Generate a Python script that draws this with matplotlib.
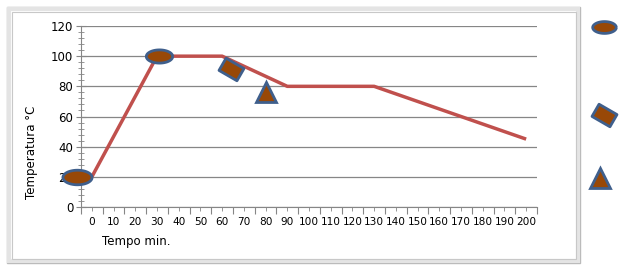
import numpy as np
import matplotlib.pyplot as plt
from matplotlib.path import Path
from matplotlib.patches import Rectangle

# data (minutes, degrees C)
tempo = [0, 30, 60, 90, 130, 200]
temperatura = [20, 100, 100, 80, 80, 45]
x_labels = list(range(0, 201, 10))

# drawn shapes on the chart (minutes, degrees C)
ellipse_pts = [(-7, 20), (31, 100)]
rect_pts = [(64, 91.5)]
tri_pts = [(80, 76)]
# shapes outside the chart (figure pixels)
side_ellipse = (604, 27)
side_rect = (604, 115)
side_tri = (600, 178)

fill_col = '#984807'
edge_col = '#3f5f8c'
line_col = '#c0504d'

t = np.linspace(0, 2 * np.pi, 60)
ellipse_marker = Path(np.column_stack([np.cos(t), 0.5 * np.sin(t)]))
ang = np.deg2rad(-30)
rx, ry = 1.0, 0.68
corners = np.array([[-rx, -ry], [rx, -ry], [rx, ry], [-rx, ry], [-rx, -ry]])
rot = np.array([[np.cos(ang), -np.sin(ang)], [np.sin(ang), np.cos(ang)]])
rect_marker = Path(corners @ rot.T, closed=True)

W, H = 620, 270
fig = plt.figure(figsize=(6.2, 2.7), dpi=100)
fig.patch.set_facecolor('white')

# frame around the chart
bg = fig.add_axes([0, 0, 1, 1])
bg.set_xlim(0, W)
bg.set_ylim(H, 0)
bg.axis('off')
bg.add_patch(Rectangle((7, 7), 573, 256, fill=False, ec='#b8b8b8', lw=1.0))
bg.add_patch(Rectangle((9, 9), 569, 252, fill=False, ec='#e4e4e4', lw=3.0))
bg.add_patch(Rectangle((11.5, 11.5), 564, 247, fill=False, ec='#c8c8c8', lw=0.8))

ax = fig.add_axes([81 / W, 1 - 207 / H, (537 - 81) / W, (207 - 26) / H])
pos = lambda v: v / 10.0
ax.plot([pos(v) for v in tempo], temperatura, color=line_col, lw=2.5,
        solid_capstyle='butt', zorder=3)

ax.set_xlim(-0.5, 20.5)
ax.set_ylim(0, 120)
ax.set_xticks(np.arange(-0.5, 21, 1))
ax.set_xticklabels([])
ax.set_xticks([pos(v) for v in x_labels], minor=True)
ax.set_xticklabels([str(v) for v in x_labels], minor=True, fontsize=7.6)
ax.set_yticks(np.arange(0, 121, 20))
ax.set_yticks(np.arange(0, 121, 4), minor=True)
ax.tick_params(axis='y', which='major', labelsize=8.5, direction='inout', length=7, color='#868686', pad=2)
ax.tick_params(axis='y', which='minor', direction='inout', length=4, color='#868686')
ax.tick_params(axis='x', which='major', direction='out', length=5, color='#868686')
ax.tick_params(axis='x', which='minor', direction='out', length=3, color='#868686', pad=4)
ax.grid(True, axis='y', which='major', color='#868686', lw=0.9)
ax.set_axisbelow(True)
for s in ['top', 'right']:
    ax.spines[s].set_visible(False)
for s in ['left', 'bottom']:
    ax.spines[s].set_color('#868686')

for (x, y), ms in zip(ellipse_pts, [21, 19]):
    ax.plot(pos(x), y, marker=ellipse_marker, ms=ms, mfc=fill_col, mec=edge_col,
            mew=2.0, clip_on=False, zorder=5)
for x, y in rect_pts:
    ax.plot(pos(x), y, marker=rect_marker, ms=18, mfc=fill_col, mec=edge_col,
            mew=2.0, clip_on=False, zorder=5)
for x, y in tri_pts:
    ax.plot(pos(x), y, marker='^', ms=15, mfc=fill_col, mec=edge_col,
            mew=2.0, clip_on=False, zorder=5)

bg.plot(*side_ellipse, marker=ellipse_marker, ms=17, mfc=fill_col, mec=edge_col, mew=2.0)
bg.plot(*side_rect, marker=rect_marker, ms=18, mfc=fill_col, mec=edge_col, mew=2.0)
bg.plot(*side_tri, marker='^', ms=15, mfc=fill_col, mec=edge_col, mew=2.0)

fig.text(32 / W, 1 - 152 / H, 'Temperatura °C', rotation=90, fontsize=8.5,
         ha='center', va='center')
fig.text(102 / W, 1 - 241 / H, 'Tempo min.', fontsize=8.5, ha='left', va='center')

plt.savefig('out.png', dpi=100)
